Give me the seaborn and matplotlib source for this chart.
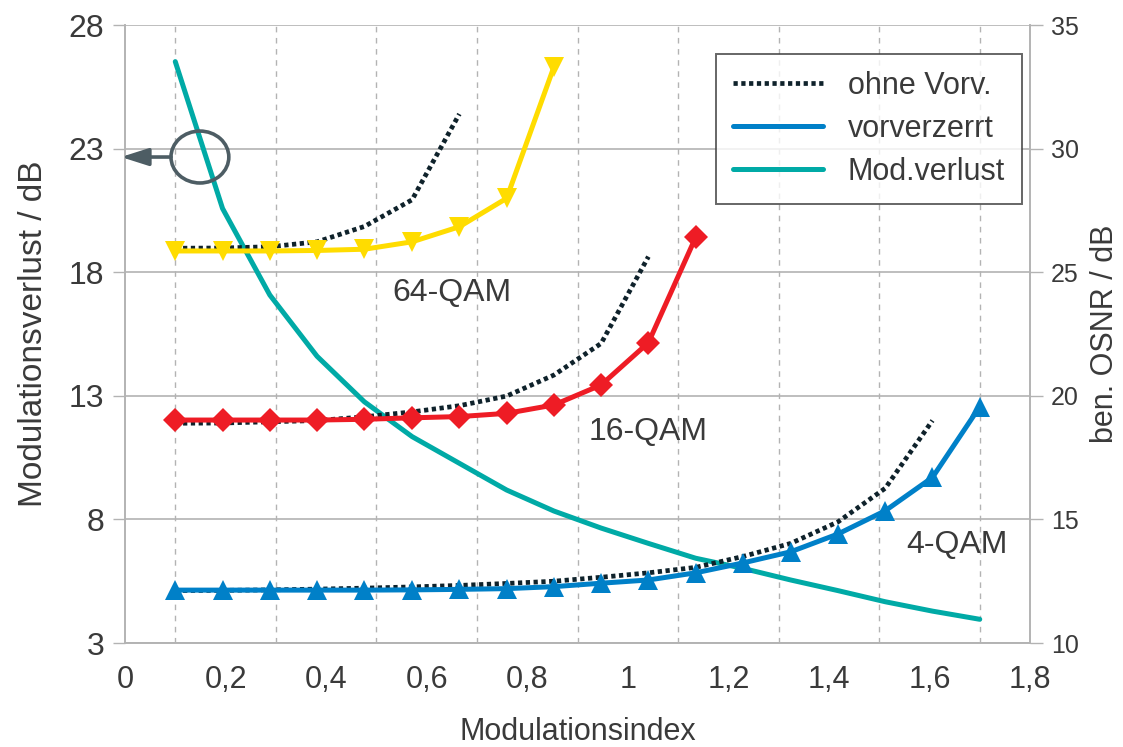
import numpy as np
import pandas as pd
import matplotlib
matplotlib.use("Agg")
import matplotlib.pyplot as plt
from matplotlib.lines import Line2D
from matplotlib.patches import Ellipse
from matplotlib.ticker import MultipleLocator, FuncFormatter
import seaborn as sns

# Modulation index sample points
mod_index = [0.10, 0.194, 0.288, 0.382, 0.476, 0.571, 0.665, 0.759, 0.853,
             0.947, 1.041, 1.135, 1.229, 1.324, 1.418, 1.512, 1.606, 1.70]

# Required OSNR / dB (right axis)
qam4_pre = [12.14, 12.14, 12.14, 12.14, 12.14, 12.15, 12.17, 12.20, 12.28,
            12.42, 12.55, 12.84, 13.24, 13.69, 14.41, 15.35, 16.70, 19.56]
qam4_raw = [12.12, 12.13, 12.15, 12.18, 12.22, 12.27, 12.33, 12.41, 12.50,
            12.66, 12.84, 13.06, 13.50, 14.03, 14.90, 16.26, 19.00]
qam16_pre = [19.02, 19.02, 19.02, 19.02, 19.05, 19.11, 19.16, 19.29, 19.63,
             20.44, 22.15, 26.41]
qam16_raw = [18.89, 18.90, 18.95, 19.00, 19.15, 19.35, 19.60, 19.99, 20.84,
             22.12, 25.63]
qam64_pre = [25.86, 25.86, 25.86, 25.88, 25.93, 26.23, 26.84, 27.99, 33.30]
qam64_raw = [25.97, 25.98, 26.03, 26.23, 26.85, 27.93, 31.40]

# Modulation loss / dB (left axis)
mod_loss = [26.52, 20.58, 17.08, 14.60, 12.76, 11.35, 10.27, 9.19, 8.34,
            7.65, 7.03, 6.43, 6.02, 5.55, 5.12, 4.67, 4.29, 3.96]

legend_labels = ["ohne Vorv.", "vorverzerrt", "Mod.verlust"]
curve_labels = ["64-QAM", "16-QAM", "4-QAM"]

C_DOT = "#0f222b"
C_BLUE = "#0080c8"
C_RED = "#ee1c25"
C_YEL = "#ffdc00"
C_TEAL = "#00aaa6"
C_GRID = "#b3b3b3"
C_TXT = "#3a3a3a"
C_MARK = "#4d5d64"

sns.set_theme(style="white")
plt.rcParams["font.family"] = ["Liberation Sans", "DejaVu Sans"]

fig = plt.figure(figsize=(11.23, 7.47), dpi=100)
ax = fig.add_axes([0.1113, 0.1392, 0.8059, 0.8273])
ax2 = ax.twinx()

# left axis: modulation loss
sns.lineplot(x=mod_index, y=mod_loss, ax=ax, color=C_TEAL, linewidth=3.6,
             sort=False, zorder=3)

dot_style = dict(color=C_DOT, linewidth=3.4, linestyle=(0, (0.9, 0.75)),
                 sort=False, zorder=2)
line_style = dict(linewidth=3.6, sort=False, zorder=4, markeredgewidth=0)

n4, n16, n64 = len(qam4_raw), len(qam16_raw), len(qam64_raw)
sns.lineplot(x=mod_index[:n4], y=qam4_raw, ax=ax2, **dot_style)
sns.lineplot(x=mod_index[:n16], y=qam16_raw, ax=ax2, **dot_style)
sns.lineplot(x=mod_index[:n64], y=qam64_raw, ax=ax2, **dot_style)

sns.lineplot(x=mod_index[:len(qam4_pre)], y=qam4_pre, ax=ax2, color=C_BLUE,
             marker="^", markersize=14, **line_style)
sns.lineplot(x=mod_index[:len(qam16_pre)], y=qam16_pre, ax=ax2, color=C_RED,
             marker="D", markersize=12, **line_style)
sns.lineplot(x=mod_index[:len(qam64_pre)], y=qam64_pre, ax=ax2, color=C_YEL,
             marker="v", markersize=14, **line_style)

# axes limits and ticks
ax.set_xlim(0, 1.8)
ax.set_ylim(3, 28)
ax2.set_ylim(10, 35)
ax.xaxis.set_major_locator(MultipleLocator(0.2))
ax.xaxis.set_minor_locator(MultipleLocator(0.1))
ax.set_yticks([3, 8, 13, 18, 23, 28])
ax2.set_yticks([10, 15, 20, 25, 30, 35])
ax.xaxis.set_major_formatter(FuncFormatter(
    lambda v, p: ("%.1f" % v).rstrip("0").rstrip(".").replace(".", ",")))

ax.grid(False)
ax2.grid(False)
ax.yaxis.grid(True, color=C_GRID, linewidth=1.2)
# dashed vertical grid at odd tenths only
for xv in np.arange(0.1, 1.8, 0.2):
    ax.axvline(xv, color=C_GRID, linewidth=1.0, linestyle=(0, (4, 4)), zorder=0)

for a in (ax, ax2):
    for s in a.spines.values():
        s.set_color(C_GRID)
        s.set_linewidth(1.2)
    a.spines["top"].set_visible(False)

ax.tick_params(axis="x", which="major", direction="out", length=9,
               width=1.0, color=C_GRID, labelcolor=C_TXT, labelsize=22, pad=7)
ax.tick_params(axis="y", which="major", direction="out", length=9,
               width=1.0, color=C_GRID, labelcolor=C_TXT, labelsize=23, pad=6)
ax.tick_params(axis="x", which="minor", direction="in", length=3,
               color=C_GRID, width=1.0)
ax2.tick_params(axis="y", which="major", direction="out", length=9,
                width=1.0, color=C_GRID, labelcolor=C_TXT, labelsize=18, pad=6)

ax.set_xlabel("Modulationsindex", fontsize=22, color=C_TXT, labelpad=16)
ax.set_ylabel("Modulationsverlust / dB", fontsize=24, color=C_TXT,
              labelpad=14)
ax2.set_ylabel("ben. OSNR / dB", fontsize=22, color=C_TXT, labelpad=8)

# curve annotations (left-axis coordinates)
ax.text(0.65, 17.15, curve_labels[0], fontsize=23, color=C_TXT,
        ha="center", va="center")
ax.text(1.04, 11.55, curve_labels[1], fontsize=23, color=C_TXT,
        ha="center", va="center")
ax.text(1.655, 6.95, curve_labels[2], fontsize=23, color=C_TXT,
        ha="center", va="center")

# axis-assignment marker: circle with arrow pointing to the left axis
ax2.add_patch(Ellipse((0.149, 22.66 + 7), 0.115, 2.1, fill=False,
                      edgecolor=C_MARK, linewidth=2.6, zorder=6))
ax2.annotate("", xy=(-0.008, 22.66 + 7), xytext=(0.0915, 22.66 + 7),
             arrowprops=dict(arrowstyle="-|>,head_length=1.1,head_width=0.35",
                             color=C_MARK, lw=2.6, mutation_scale=15,
                             shrinkA=0, shrinkB=0),
             annotation_clip=False, zorder=6)

handles = [
    Line2D([], [], color=C_DOT, linewidth=3.4, linestyle=(0, (0.9, 0.75))),
    Line2D([], [], color=C_BLUE, linewidth=3.6),
    Line2D([], [], color=C_TEAL, linewidth=3.6),
]
leg = ax2.legend(handles, legend_labels, loc="upper right",
                 bbox_to_anchor=(0.9098, 0.9273),
                 bbox_transform=fig.transFigure, fontsize=22,
                 frameon=True, fancybox=False, handlelength=2.95,
                 handletextpad=0.8, labelspacing=0.42, borderpad=0.55,
                 borderaxespad=0)
leg.get_frame().set_edgecolor("#404040")
leg.get_frame().set_linewidth(1.4)
for t in leg.get_texts():
    t.set_color(C_TXT)
leg.set_zorder(10)

fig.savefig("out.png", dpi=100)
